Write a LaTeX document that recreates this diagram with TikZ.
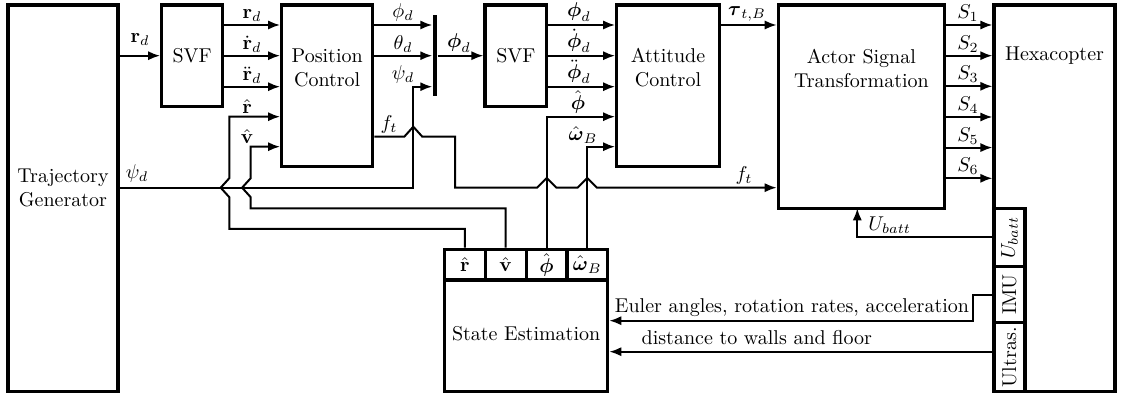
\documentclass[tikz,border=0pt]{standalone}
\usepackage{amsmath,amssymb}
\usetikzlibrary{arrows.meta,fit}
\tikzset{
  blk/.style={draw, line width=1.6pt, inner sep=0pt},
  conn/.style={line width=1pt},
  arr/.style={conn, -{Latex[length=6pt,width=4.6pt]}},
  lab/.style={anchor=south, inner sep=1.5pt},
  txt/.style={align=center, inner sep=0pt},
}
\begin{document}
\begin{tikzpicture}[x=0.5pt,y=-0.5pt]
\useasboundingbox (0,0) rectangle (1121,394);
% levels
\coordinate (ya) at (0,25);
\coordinate (yb) at (0,55.7);
\coordinate (yc) at (0,86.7);
\coordinate (yd) at (0,116.7);
\coordinate (ye) at (0,146.7);
\coordinate (yf) at (0,136.7);
\coordinate (yg) at (0,187.7);
\coordinate (yimu) at (0,320.7);
\coordinate (yus) at (0,351.7);
% blocks
\node[blk, fit={(8,5) (118,391.7)}] (tg) {};
\node[txt] (tgT) at (63,187.5) {Trajectory\\Generator};
\node[blk, fit={(161.7,5) (222.7,106.7)}] (svfa) {};
\node[txt] (svfaT) at (svfa.center) {SVF};
\node[blk, fit={(281.7,5) (372.7,166.7)}] (pc) {};
\node[txt] (pcT) at (327.2,67.5) {Position\\Control};
\node[fill, draw=none, inner sep=0pt, fit={(432.7,15) (437.3,96)}] (mux) {};
\node[blk, fit={(485,5) (546.7,106.7)}] (svfb) {};
\node[txt] (svfbT) at (svfb.center) {SVF};
\node[blk, fit={(616.7,5) (719.3,166.7)}] (ac) {};
\node[txt] (acT) at (668,67.5) {Attitude\\Control};
\node[blk, fit={(778.3,5) (944.5,208.3)}] (ast) {};
\node[txt] (astT) at (861.4,68) {Actor Signal\\Transformation};
\node[blk, fit={(994,5) (1115,391.7)}] (hex) {};
\node[txt] (hexT) at (1054.5,55.7) {Hexacopter};
\node[blk, fit={(994,208.3) (1025,266.7)}] (pu) {};
\node[blk, fit={(994,266.7) (1025,322.7)}] (pimu) {};
\node[blk, fit={(994,322.7) (1025,391.7)}] (pus) {};
\node[rotate=90] (puT) at (pu.center) {$U_{batt}$};
\node[rotate=90] (pimuT) at (pimu.center) {IMU};
\node[rotate=90] (pusT) at (pus.center) {Ultras.};
% state estimation
\node[blk, fit={(444.5,280) (607.7,391.7)}] (se) {};
\node[txt] (seT) at (526.1,334) {State Estimation};
\node[blk, fit={(444.5,249.3) (485.3,280)}] (sr) {};
\node[blk, fit={(485.3,249.3) (526.1,280)}] (sv) {};
\node[blk, fit={(526.1,249.3) (566.9,280)}] (sphi) {};
\node[blk, fit={(566.9,249.3) (607.7,280)}] (somg) {};
\node (srT) at (sr.center) {$\hat{\mathbf r}$};
\node (svT) at (sv.center) {$\hat{\mathbf v}$};
\node (sphiT) at (sphi.center) {$\hat{\boldsymbol\phi}$};
\node[inner sep=0pt] (somgT) at (somg.center) {$\hat{\boldsymbol\omega}_B$};
% trajectory -> SVF
\draw[arr] (tg.east|-yb) -- (svfa.west|-yb);
\node[lab, inner sep=5pt] (lrdin) at (140,55.7) {$\mathbf r_d$};
% SVF1 -> PC
\draw[arr] (svfa.east|-ya) -- (pc.west|-ya);
\draw[arr] (svfa.east|-yb) -- (pc.west|-yb);
\draw[arr] (svfa.east|-yc) -- (pc.west|-yc);
\node[lab] (lrd) at (252,25) {$\mathbf r_d$};
\node[lab] (lrdd) at (252,55.7) {$\dot{\mathbf r}_d$};
\node[lab] (lrddd) at (252,86.7) {$\ddot{\mathbf r}_d$};
% PC -> mux
\draw[arr] (pc.east|-ya) -- (mux.west|-ya);
\draw[arr] (pc.east|-yb) -- (mux.west|-yb);
\node[lab] (lphid) at (403,25) {$\phi_d$};
\node[lab] (lthd) at (403,55.7) {$\theta_d$};
\node[lab] (lpsid) at (403,86.7) {$\psi_d$};
% psi_d from trajectory generator
\draw[arr] (tg.east|-yg) -- (413.3,187.7) -- (413.3,86.7) -- (mux.west|-yc);
\node[lab, inner sep=2.5pt] (lpsitg) at (137,187.7) {$\psi_d$};
% mux -> SVF2
\draw[arr] (mux.east|-yb) -- (svfb.west|-yb);
\node[lab] (lPhid) at (459,55.7) {$\boldsymbol\phi_d$};
% SVF2 -> AC
\draw[arr] (svfb.east|-ya) -- (ac.west|-ya);
\draw[arr] (svfb.east|-yb) -- (ac.west|-yb);
\draw[arr] (svfb.east|-yc) -- (ac.west|-yc);
\node[lab] (lP1) at (579,25) {$\boldsymbol\phi_d$};
\node[lab] (lP2) at (579,55.7) {$\dot{\boldsymbol\phi}_d$};
\node[lab] (lP3) at (579,86.7) {$\ddot{\boldsymbol\phi}_d$};
% AC -> AST
\draw[arr] (ac.east|-ya) -- (ast.west|-ya);
\node[lab] (ltau) at (747,25) {$\boldsymbol\tau_{t,B}$};
% AST -> Hexacopter
\foreach \i/\y in {1/25,2/55.7,3/86.3,4/117,5/147.6,6/178.3}{
  \coordinate (sy\i) at (0,\y);
  \draw[arr] (ast.east|-sy\i) -- (hex.west|-sy\i);
  \node[lab] (lS\i) at (968,\y) {$S_\i$};
}
% f_t
\draw[arr] (pc.east|-yf) -- (404.3,136.7) -- (413.3,126.7) -- (422.3,136.7)
  -- (455,136.7) -- (455,187.7) -- (537,187.7) -- (546.7,178) -- (556.4,187.7)
  -- (577.6,187.7) -- (587.3,178) -- (597,187.7) -- (ast.west|-yg);
\node[lab] (lft1) at (389,136.7) {$f_t$};
\node[lab] (lft2) at (744,187.7) {$f_t$};
% feedback r hat, v hat
\draw[arr] (sr.north) |- (229.3,229) -- (229.3,197.2) -- (220.7,187.7) -- (229.3,178.2)
  -- (229.3,116.7) -- (pc.west|-yd);
\draw[arr] (sv.north) |- (250.7,208.3) -- (250.7,197.2) -- (242.1,187.7) -- (250.7,178.2)
  -- (250.7,146.7) -- (pc.west|-ye);
\node[lab] (lrh) at (247,116.7) {$\hat{\mathbf r}$};
\node[lab] (lvh) at (247,146.7) {$\hat{\mathbf v}$};
% feedback phi hat, omega hat
\draw[arr] (sphi.north) |- (ac.west|-yd);
\draw[arr] (somg.north) |- (ac.west|-ye);
\node[lab] (lphih) at (578,116.7) {$\hat{\boldsymbol\phi}$};
\node[lab] (lomh) at (583,146.7) {$\hat{\boldsymbol\omega}_B$};
% U_batt
\coordinate (ub) at (857.3,208.3);
\draw[arr] (pu.west) -| (ub);
\node[anchor=south west, inner sep=1.5pt] (lub) at (865,236.7) {$U_{batt}$};
% IMU
\draw[arr] (pimu.west) -| (973.3,320.7) -- (se.east|-yimu);
\node[anchor=base] (leu) at (792,312.5) {Euler angles, rotation rates, acceleration};
% Ultrasonic
\draw[arr] (pus.west|-yus) -- (se.east|-yus);
\node[anchor=base] (ldist) at (756.8,344.3) {distance to walls and floor};
\end{tikzpicture}
\end{document}
